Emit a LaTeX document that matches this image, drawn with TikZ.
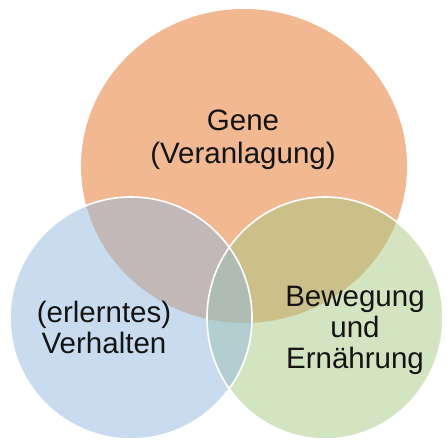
\documentclass[tikz,border=0pt]{standalone}
\usepackage{fontspec}
\setmainfont{Liberation Sans}
\usepackage{tikz}
\usepackage{xcolor}

\definecolor{geneorange}{RGB}{242,184,146}
\definecolor{verhaltenblue}{RGB}{147,185,223}
\definecolor{bewegunggreen}{RGB}{167,201,131}

\tikzset{
  venntext/.style={align=center, inner sep=0pt, text=black!92, font=\fontsize{29.5}{31}\selectfont},
  vennrim/.style={draw=white, line width=1.6pt}
}

\begin{document}
\begin{tikzpicture}[x=1pt,y=-1pt]
\useasboundingbox (0,0) rectangle (447,440);
% the three circles, the lower two see-through
\fill[geneorange] (244,166) ellipse [x radius=163, y radius=157];
\fill[bewegunggreen, fill opacity=0.5] (325,318) ellipse [x radius=118, y radius=121];
\fill[verhaltenblue, fill opacity=0.5] (131,318) circle [radius=121];
\draw[vennrim] (325,318) ellipse [x radius=118, y radius=121];
\draw[vennrim] (131,318) circle [radius=121];
% labels
\node[venntext, font=\fontsize{29.5}{33}\selectfont] (gene) at (243,140) {Gene\\(Veranlagung)};
\node[venntext] (verhalten) at (104,327) {(erlerntes)\\Verhalten};
\node[venntext] (bewegung) at (355,330) {Bewegung\\und\\Ernährung};
\end{tikzpicture}
\end{document}
